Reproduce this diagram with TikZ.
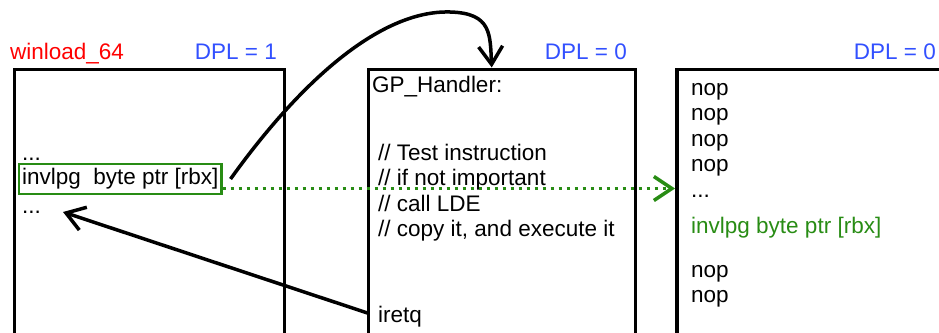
\documentclass[tikz,border=0pt]{standalone}
\usepackage{fontspec}
\setmainfont{Liberation Sans}
\usetikzlibrary{arrows.meta}
\definecolor{dplblue}{RGB}{50,80,255}
\definecolor{codegreen}{RGB}{40,140,20}
\tikzset{
  codebox/.style={draw, line width=3.5pt, anchor=north west, minimum height=300pt, inner sep=0pt},
  codeline/.style={anchor=base west, inner sep=2pt, font=\fontsize{22.5}{25.5}\selectfont},
  dpllabel/.style={anchor=base east, inner sep=0pt, text=dplblue, font=\fontsize{22.5}{25.5}\selectfont},
  gframe/.style={draw=codegreen, line width=2.2pt, anchor=west, inner xsep=3pt, inner ysep=0pt, minimum height=30pt, font=\fontsize{22.5}{25.5}\selectfont},
  jump/.style={line width=3.5pt, -{Straight Barb[length=18pt,width=24pt]}},
  copyflow/.style={codegreen, line width=3.5pt, dash pattern=on 3pt off 5pt, -{Straight Barb[length=18pt,width=24pt]}}
}
\begin{document}
\begin{tikzpicture}[x=1pt,y=-1pt]
  \clip (0,0) rectangle (939,332);
  \useasboundingbox (0,0) rectangle (939,332);

  % the three code pages
  \node[codebox, minimum width=270pt] (winload) at (12.5,67.5) {};
  \node[codebox, minimum width=267pt] (handler) at (366.5,67.5) {};
  \node[codebox, minimum width=300pt] (nops) at (675,67.5) {};

  % headers
  \node[anchor=base west, inner sep=0pt, text=red, font=\fontsize{22.5}{25.5}\selectfont] (wname) at (10,59) {winload\_64};
  \node[dpllabel] (dpla) at (277,59) {DPL = 1};
  \node[dpllabel] (dplb) at (627,59) {DPL = 0};
  \node[dpllabel] (dplc) at (936,59) {DPL = 0};

  % winload_64
  \node[codeline] (dotsa) at (20,160) {...};
  \node[gframe] (instr) at (18,179) {invlpg~~byte ptr [rbx]};
  \node[codeline] (dotsb) at (20,213) {...};
  \coordinate (back) at (63,212);

  % GP_Handler
  \node[codeline] (gp) at (370,92) {GP\_Handler:};
  \node[codeline] (cmta) at (376,160) {// Test instruction};
  \node[codeline] (cmtb) at (376,185.5) {// if not important};
  \node[codeline] (cmtc) at (376,211) {// call LDE};
  \node[codeline] (cmtd) at (376,236.5) {// copy it, and execute it};
  \node[codeline] (iret) at (376,322) {iretq};

  % nop sled
  \foreach \y [count=\i] in {95,120.5,146,171.5} {
    \node[codeline] (nopa\i) at (689,\y) {nop};
  }
  \node[codeline] (dotsc) at (689,197) {...};
  \node[codeline, text=codegreen] (copy) at (689,233) {invlpg byte ptr [rbx]};
  \foreach \y [count=\i] in {277,302.5} {
    \node[codeline] (nopb\i) at (689,\y) {nop};
  }

  % flow
  \draw[jump] ([xshift=8pt]instr.east) .. controls (300,82) and (380,10) .. (450,12)
    .. controls (492,13) and (490,35) .. ([xshift=-10pt]handler.north);
  \draw[copyflow] ([yshift=-9.5pt]instr.east) -- ([yshift=-9.5pt]instr.east -| nops.west);
  \draw[jump] ([xshift=-8pt,yshift=3pt]iret.west) -- (back);
\end{tikzpicture}
\end{document}
